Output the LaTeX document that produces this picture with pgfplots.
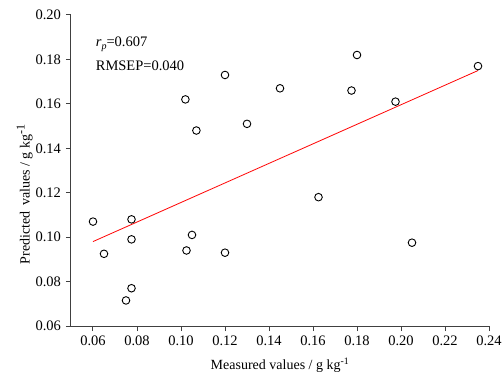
\documentclass[border=0pt]{standalone}
\usepackage{fontspec}
\setmainfont{Liberation Serif}
\usepackage{pgfplots}
\pgfplotsset{compat=1.18}
\begin{document}
\fontsize{14.5pt}{17pt}\selectfont
\begin{tikzpicture}
\path[use as bounding box] (-71pt,-54pt) rectangle (432pt,326pt);
\begin{axis}[
  at={(0pt,0pt)}, anchor=south west,
  scale only axis, width=418pt, height=311pt,
  xmin=0.05, xmax=0.24, ymin=0.06, ymax=0.20,
  axis x line*=bottom, axis y line*=left,
  axis line style={line width=1pt, black!75, -},
  tick align=outside, major tick length=5pt,
  tick style={line width=1pt, black!75},
  xtick={0.06,0.08,...,0.241},
  ytick={0.06,0.08,...,0.201},
  /pgf/number format/assume math mode=true,
  /pgf/number format/.cd, fixed, fixed zerofill, precision=2, /pgfplots/.cd,
  scaled ticks=false,
  ticklabel style={font=\fontsize{14.5pt}{17pt}\selectfont},
  xlabel={Measured values / g kg\textsuperscript{-1}},
  ylabel={Predicted\, values / g kg\raisebox{5pt}{\fontsize{12pt}{14pt}\selectfont -1}},
  label style={font=\fontsize{14pt}{16pt}\selectfont},
  xlabel style={yshift=-2pt},
  ylabel style={yshift=-7pt, xshift=-24pt},
  clip=false,
]
\addplot[only marks, mark=o, mark size=3.8pt, mark options={line width=0.9pt, black}] coordinates {
(0.102,0.162) (0.120,0.173) (0.107,0.148) (0.130,0.151) (0.145,0.167)
(0.180,0.182) (0.1775,0.166) (0.1975,0.161) (0.235,0.177) (0.1625,0.118)
(0.205,0.0975) (0.060,0.107) (0.065,0.0925) (0.0775,0.108) (0.0775,0.099)
(0.0775,0.077) (0.075,0.0715) (0.1025,0.094) (0.105,0.101) (0.120,0.093)
};
\addplot[red, line width=0.8pt] coordinates {(0.060,0.098) (0.235,0.175)};
\node[anchor=west, inner sep=0pt] at (axis cs:0.0612,0.1868) {\textit{r}\raisebox{-3pt}{\fontsize{10pt}{12pt}\selectfont\textit{p}}=0.607};
\node[anchor=west, inner sep=0pt] at (axis cs:0.0612,0.1770) {RMSEP=0.040};
\end{axis}
\end{tikzpicture}
\end{document}
